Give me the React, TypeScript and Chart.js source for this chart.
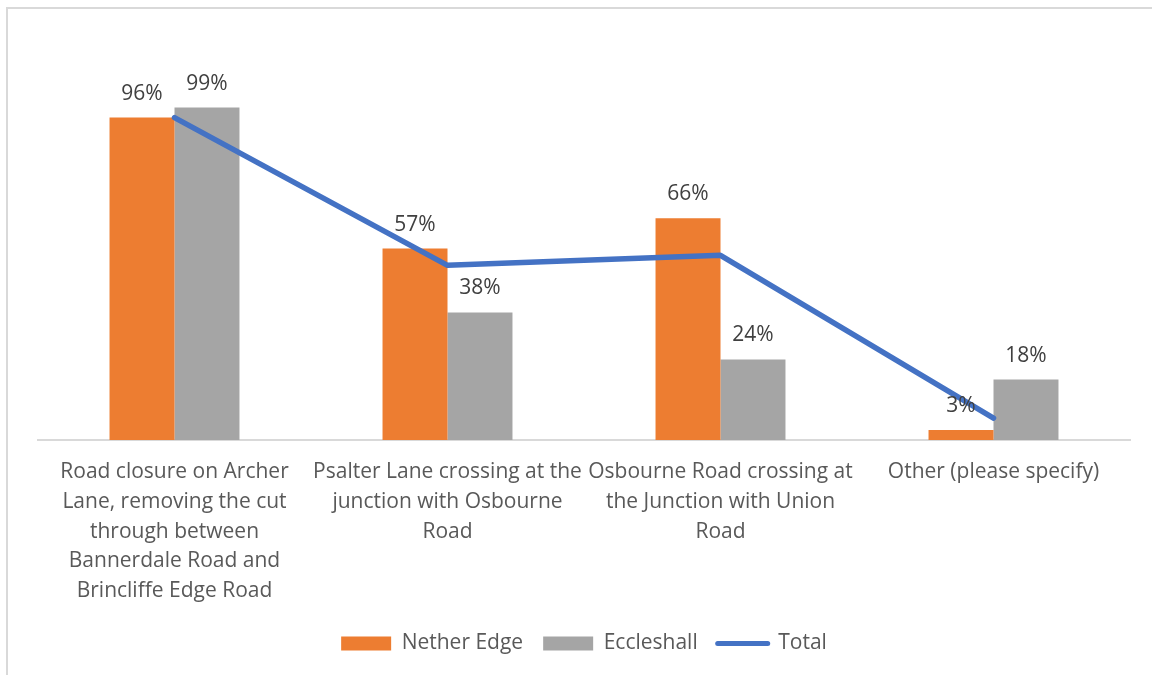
import React, { useEffect, useRef } from "react";
import { Chart, registerables } from "chart.js";

Chart.register(...registerables);

const categories: string[][] = [
  ["Road closure on Archer", "Lane, removing the cut", "through between", "Bannerdale Road and", "Brincliffe Edge Road"],
  ["Psalter Lane crossing at the", "junction with Osbourne", "Road"],
  ["Osbourne Road crossing at", "the Junction with Union", "Road"],
  ["Other (please specify)"],
];
const netherEdge = [0.96, 0.57, 0.66, 0.03];
const eccleshall = [0.99, 0.38, 0.24, 0.18];
const total = [0.96, 0.52, 0.55, 0.065];

const FONT = "'Open Sans', 'Noto Sans', sans-serif";

const barLabels = {
  id: "barLabels",
  afterDatasetsDraw(chart: any) {
    const ctx = chart.ctx;
    ctx.save();
    ctx.font = `21px ${FONT}`;
    ctx.fillStyle = "#404040";
    ctx.textAlign = "center";
    ctx.textBaseline = "middle";
    chart.data.datasets.forEach((ds: any, i: number) => {
      if (ds.type === "line") return;
      const meta = chart.getDatasetMeta(i);
      meta.data.forEach((el: any, j: number) => {
        const v = ds.data[j];
        ctx.fillText(Math.round(v * 100) + "%", el.x, el.y - 24);
      });
    });
    ctx.restore();
  },
};

export default function App() {
  const ref = useRef<HTMLCanvasElement>(null);
  useEffect(() => {
    const chart = new Chart(ref.current!, {
      type: "bar",
      data: {
        labels: categories,
        datasets: [
          {
            type: "bar",
            label: "Nether Edge",
            data: netherEdge,
            backgroundColor: "#ED7D31",
            categoryPercentage: 0.476,
            barPercentage: 1.0,
            order: 2,
          } as any,
          {
            type: "bar",
            label: "Eccleshall",
            data: eccleshall,
            backgroundColor: "#A5A5A5",
            categoryPercentage: 0.476,
            barPercentage: 1.0,
            order: 2,
          } as any,
          {
            type: "line",
            label: "Total",
            data: total,
            borderColor: "#4472C4",
            backgroundColor: "#4472C4",
            borderWidth: 5.5,
            borderCapStyle: "round",
            borderJoinStyle: "round",
            pointRadius: 0,
            tension: 0,
            order: 1,
          } as any,
        ],
      },
      options: {
        animation: false,
        responsive: false,
        maintainAspectRatio: false,
        layout: { padding: { top: 37, left: 38, right: 22, bottom: 11 } },
        scales: {
          x: {
            grid: { display: true, drawOnChartArea: false, drawTicks: false, color: "rgba(0,0,0,0)" },
            border: { display: true, color: "#D9D9D9", width: 2 },
            ticks: {
              color: "#595959",
              font: { family: FONT, size: 21, lineHeight: 1.42 },
              padding: 17,
              maxRotation: 0,
              autoSkip: false,
            },
            afterFit: (scale: any) => {
              scale.height = 173;
            },
          },
          y: {
            display: false,
            min: 0,
            max: 1.2,
          },
        },
        plugins: {
          tooltip: { enabled: false },
          legend: {
            position: "bottom",
            labels: {
              color: "#595959",
              font: { family: FONT, size: 21 },
              padding: 20,
              usePointStyle: true,
              pointStyleWidth: 50,
              boxHeight: 14,
              boxWidth: 50,
              generateLabels: () => [
                { text: "Nether Edge", fillStyle: "#ED7D31", strokeStyle: "#ED7D31", lineWidth: 0, pointStyle: "rect", datasetIndex: 0, fontColor: "#595959" },
                { text: "Eccleshall", fillStyle: "#A5A5A5", strokeStyle: "#A5A5A5", lineWidth: 0, pointStyle: "rect", datasetIndex: 1, fontColor: "#595959" },
                { text: "Total", fillStyle: "#4472C4", strokeStyle: "#4472C4", lineWidth: 5, lineCap: "round", pointStyle: "line", datasetIndex: 2, fontColor: "#595959" },
              ] as any,
            },
          },
        },
      },
      plugins: [barLabels],
    });
    return () => chart.destroy();
  }, []);
  return (
    <div style={{ position: "absolute", left: 0, top: 0, width: 1152, height: 675, overflow: "hidden", background: "#fff" }}>
      <div
        style={{
          position: "absolute",
          left: 6,
          top: 7,
          width: 1200,
          height: 700,
          border: "2px solid #D9D9D9",
          boxSizing: "border-box",
        }}
      />
      <canvas ref={ref} width={1152} height={675} style={{ position: "absolute", left: 0, top: 0 }} />
    </div>
  );
}
